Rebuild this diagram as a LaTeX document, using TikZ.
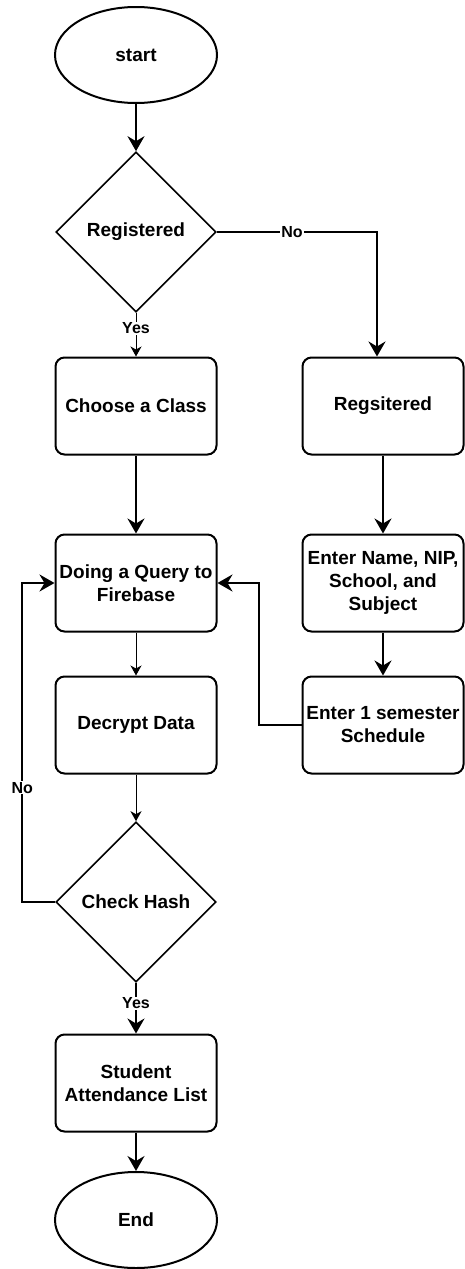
\documentclass[tikz,border=0pt]{standalone}
\usepackage{fontspec}
\setmainfont{Liberation Sans}
\usetikzlibrary{shapes.geometric,arrows.meta}
\newcommand\boxfont{\fontsize{19}{23}\selectfont\bfseries}
\newcommand\labelfont{\fontsize{16}{18}\selectfont\bfseries}
\begin{document}
\begin{tikzpicture}[x=1pt,y=-1pt,
  term/.style={draw, ellipse, line width=2pt, minimum width=162pt, minimum height=96pt, inner sep=0pt, font=\boxfont},
  proc/.style={draw, line width=2pt, rounded corners=9pt, minimum width=161pt, minimum height=97pt, inner sep=0pt, align=center, font=\boxfont},
  decision/.style={draw, diamond, line width=1.6pt, minimum width=160pt, minimum height=160pt, inner sep=0pt, font=\boxfont},
  flow/.style={line width=2pt, -{Stealth[length=15pt,width=17pt,inset=5pt]}},
  thinflow/.style={line width=1pt, -{Stealth[length=10pt,width=11pt,inset=3pt]}},
  lbl/.style={fill=white, font=\labelfont, inner sep=1pt}]
\useasboundingbox (0,0) rectangle (465,1269);

% left column
\node[term] (start) at (136,55) {start};
\node[decision] (reg) at (136,232) {Registered};
\node[proc] (choose) at (136,406) {Choose a Class};
\node[proc] (query) at (136,583) {Doing a Query to\\Firebase};
\node[proc] (decrypt) at (136,725) {Decrypt Data};
\node[decision] (check) at (136,902) {Check Hash};
\node[proc] (list) at (136,1083) {Student\\Attendance List};
\node[term] (end) at (136,1220) {End};

% right column
\node[proc] (regbox) at (383,406) {Regsitered};
\node[proc] (enter) at (383,583) {Enter Name, NIP,\\School, and\\Subject};
\node[proc] (sched) at (383,725) {Enter 1 semester\\Schedule};

% connectors
\draw[flow] (start) -- (reg);
\draw[thinflow] (reg) -- node[lbl,pos=0.35]{Yes} (choose);
\draw[flow] (reg.east) -| node[lbl,pos=0.235]{No} ([xshift=-6pt]regbox.north);
\draw[flow] (choose) -- (query);
\draw[flow] (regbox) -- (enter);
\draw[flow] (enter) -- (sched);
\draw[thinflow] (query) -- (decrypt);
\draw[thinflow] (decrypt) -- (check);
\draw[flow] (sched.west) -- ++(-43,0) |- (query.east);
\draw[flow] (check.west) -- ++(-33,0) |- node[lbl,pos=0.179]{No} (query.west);
\draw[flow] (check) -- node[lbl,pos=0.4]{Yes} (list);
\draw[flow] (list) -- (end);
\end{tikzpicture}
\end{document}
